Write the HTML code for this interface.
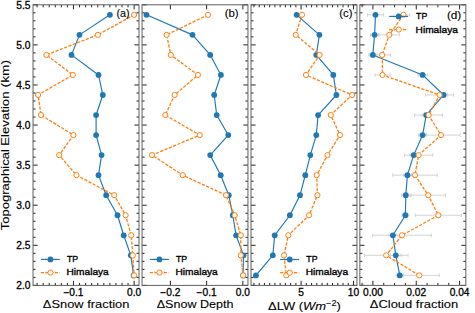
<!DOCTYPE html><html><head><meta charset="utf-8"><style>html,body{margin:0;padding:0;background:#fff;}svg{display:block;}</style></head><body><svg width="475" height="313" viewBox="0 0 475 313">
<rect width="475" height="313" fill="#fff"/>
<polyline points="109.90,14.82 79.50,34.86 71.50,54.91 98.50,74.95 102.80,94.99 96.10,115.04 96.10,135.08 101.60,155.12 98.50,175.16 106.20,195.21 117.50,215.25 123.70,235.29 130.80,255.34 133.60,275.38" fill="none" stroke="#1f77b4" stroke-width="1.15" stroke-linejoin="round"/>
<circle cx="109.90" cy="14.82" r="2.9" fill="#1f77b4"/>
<circle cx="79.50" cy="34.86" r="2.9" fill="#1f77b4"/>
<circle cx="71.50" cy="54.91" r="2.9" fill="#1f77b4"/>
<circle cx="98.50" cy="74.95" r="2.9" fill="#1f77b4"/>
<circle cx="102.80" cy="94.99" r="2.9" fill="#1f77b4"/>
<circle cx="96.10" cy="115.04" r="2.9" fill="#1f77b4"/>
<circle cx="96.10" cy="135.08" r="2.9" fill="#1f77b4"/>
<circle cx="101.60" cy="155.12" r="2.9" fill="#1f77b4"/>
<circle cx="98.50" cy="175.16" r="2.9" fill="#1f77b4"/>
<circle cx="106.20" cy="195.21" r="2.9" fill="#1f77b4"/>
<circle cx="117.50" cy="215.25" r="2.9" fill="#1f77b4"/>
<circle cx="123.70" cy="235.29" r="2.9" fill="#1f77b4"/>
<circle cx="130.80" cy="255.34" r="2.9" fill="#1f77b4"/>
<circle cx="133.60" cy="275.38" r="2.9" fill="#1f77b4"/>
<polyline points="134.10,14.82 97.80,34.86 46.40,54.91 72.80,74.95 38.10,94.99 41.00,115.04 73.40,135.08 59.20,155.12 76.40,175.16 114.20,195.21 125.60,215.25 131.20,235.29 132.80,255.34 134.10,275.38" fill="none" stroke="#ff7f0e" stroke-width="1.3" stroke-dasharray="3.2 1.45"/>
<circle cx="134.10" cy="14.82" r="2.6" fill="#fff" stroke="#ff7f0e" stroke-width="1"/>
<circle cx="97.80" cy="34.86" r="2.6" fill="#fff" stroke="#ff7f0e" stroke-width="1"/>
<circle cx="46.40" cy="54.91" r="2.6" fill="#fff" stroke="#ff7f0e" stroke-width="1"/>
<circle cx="72.80" cy="74.95" r="2.6" fill="#fff" stroke="#ff7f0e" stroke-width="1"/>
<circle cx="38.10" cy="94.99" r="2.6" fill="#fff" stroke="#ff7f0e" stroke-width="1"/>
<circle cx="41.00" cy="115.04" r="2.6" fill="#fff" stroke="#ff7f0e" stroke-width="1"/>
<circle cx="73.40" cy="135.08" r="2.6" fill="#fff" stroke="#ff7f0e" stroke-width="1"/>
<circle cx="59.20" cy="155.12" r="2.6" fill="#fff" stroke="#ff7f0e" stroke-width="1"/>
<circle cx="76.40" cy="175.16" r="2.6" fill="#fff" stroke="#ff7f0e" stroke-width="1"/>
<circle cx="114.20" cy="195.21" r="2.6" fill="#fff" stroke="#ff7f0e" stroke-width="1"/>
<circle cx="125.60" cy="215.25" r="2.6" fill="#fff" stroke="#ff7f0e" stroke-width="1"/>
<circle cx="131.20" cy="235.29" r="2.6" fill="#fff" stroke="#ff7f0e" stroke-width="1"/>
<circle cx="132.80" cy="255.34" r="2.6" fill="#fff" stroke="#ff7f0e" stroke-width="1"/>
<circle cx="134.10" cy="275.38" r="2.6" fill="#fff" stroke="#ff7f0e" stroke-width="1"/>
<path d="M33.05 4.80h4.6M139.00 4.80h-4.6M33.05 44.89h4.6M139.00 44.89h-4.6M33.05 84.97h4.6M139.00 84.97h-4.6M33.05 125.06h4.6M139.00 125.06h-4.6M33.05 165.14h4.6M139.00 165.14h-4.6M33.05 205.23h4.6M139.00 205.23h-4.6M33.05 245.31h4.6M139.00 245.31h-4.6M33.05 285.40h4.6M139.00 285.40h-4.6M33.05 12.82h2.5M139.00 12.82h-2.5M33.05 20.83h2.5M139.00 20.83h-2.5M33.05 28.85h2.5M139.00 28.85h-2.5M33.05 36.87h2.5M139.00 36.87h-2.5M33.05 52.90h2.5M139.00 52.90h-2.5M33.05 60.92h2.5M139.00 60.92h-2.5M33.05 68.94h2.5M139.00 68.94h-2.5M33.05 76.95h2.5M139.00 76.95h-2.5M33.05 92.99h2.5M139.00 92.99h-2.5M33.05 101.01h2.5M139.00 101.01h-2.5M33.05 109.02h2.5M139.00 109.02h-2.5M33.05 117.04h2.5M139.00 117.04h-2.5M33.05 133.07h2.5M139.00 133.07h-2.5M33.05 141.09h2.5M139.00 141.09h-2.5M33.05 149.11h2.5M139.00 149.11h-2.5M33.05 157.13h2.5M139.00 157.13h-2.5M33.05 173.16h2.5M139.00 173.16h-2.5M33.05 181.18h2.5M139.00 181.18h-2.5M33.05 189.19h2.5M139.00 189.19h-2.5M33.05 197.21h2.5M139.00 197.21h-2.5M33.05 213.25h2.5M139.00 213.25h-2.5M33.05 221.26h2.5M139.00 221.26h-2.5M33.05 229.28h2.5M139.00 229.28h-2.5M33.05 237.30h2.5M139.00 237.30h-2.5M33.05 253.33h2.5M139.00 253.33h-2.5M33.05 261.35h2.5M139.00 261.35h-2.5M33.05 269.37h2.5M139.00 269.37h-2.5M33.05 277.38h2.5M139.00 277.38h-2.5M73.48 285.40v-4.6M73.48 4.80v4.6M134.13 285.40v-4.6M134.13 4.80v4.6M37.09 285.40v-2.5M37.09 4.80v2.5M43.16 285.40v-2.5M43.16 4.80v2.5M49.22 285.40v-2.5M49.22 4.80v2.5M55.29 285.40v-2.5M55.29 4.80v2.5M61.35 285.40v-2.5M61.35 4.80v2.5M67.42 285.40v-2.5M67.42 4.80v2.5M79.54 285.40v-2.5M79.54 4.80v2.5M85.61 285.40v-2.5M85.61 4.80v2.5M91.67 285.40v-2.5M91.67 4.80v2.5M97.74 285.40v-2.5M97.74 4.80v2.5M103.80 285.40v-2.5M103.80 4.80v2.5M109.87 285.40v-2.5M109.87 4.80v2.5M115.94 285.40v-2.5M115.94 4.80v2.5M122.00 285.40v-2.5M122.00 4.80v2.5M128.06 285.40v-2.5M128.06 4.80v2.5" stroke="#222" stroke-width="1.0" fill="none"/>
<rect x="33.05" y="4.8" width="105.95" height="280.60" fill="none" stroke="#606060" stroke-width="1.0"/>
<text transform="translate(73.48 295.8) scale(1.02 1)" text-anchor="middle" font-size="10.0" font-family="'Liberation Sans', sans-serif" stroke="#000" stroke-width="0.3">−0.1</text>
<text transform="translate(134.13 295.8) scale(1.02 1)" text-anchor="middle" font-size="10.0" font-family="'Liberation Sans', sans-serif" stroke="#000" stroke-width="0.3">0.0</text>
<polyline points="146.50,14.82 192.50,34.86 210.20,54.91 220.90,74.95 214.20,94.99 216.70,115.04 228.30,135.08 210.20,155.12 220.70,175.16 228.80,195.21 232.80,215.25 236.10,235.29 243.50,255.34 243.00,275.38" fill="none" stroke="#1f77b4" stroke-width="1.15" stroke-linejoin="round"/>
<circle cx="146.50" cy="14.82" r="2.9" fill="#1f77b4"/>
<circle cx="192.50" cy="34.86" r="2.9" fill="#1f77b4"/>
<circle cx="210.20" cy="54.91" r="2.9" fill="#1f77b4"/>
<circle cx="220.90" cy="74.95" r="2.9" fill="#1f77b4"/>
<circle cx="214.20" cy="94.99" r="2.9" fill="#1f77b4"/>
<circle cx="216.70" cy="115.04" r="2.9" fill="#1f77b4"/>
<circle cx="228.30" cy="135.08" r="2.9" fill="#1f77b4"/>
<circle cx="210.20" cy="155.12" r="2.9" fill="#1f77b4"/>
<circle cx="220.70" cy="175.16" r="2.9" fill="#1f77b4"/>
<circle cx="228.80" cy="195.21" r="2.9" fill="#1f77b4"/>
<circle cx="232.80" cy="215.25" r="2.9" fill="#1f77b4"/>
<circle cx="236.10" cy="235.29" r="2.9" fill="#1f77b4"/>
<circle cx="243.50" cy="255.34" r="2.9" fill="#1f77b4"/>
<circle cx="243.00" cy="275.38" r="2.9" fill="#1f77b4"/>
<polyline points="208.00,14.82 166.60,34.86 170.80,54.91 197.90,74.95 174.60,94.99 165.30,115.04 199.70,135.08 152.10,155.12 182.70,175.16 226.00,195.21 234.70,215.25 240.80,235.29 240.80,255.34 243.10,275.38" fill="none" stroke="#ff7f0e" stroke-width="1.3" stroke-dasharray="3.2 1.45"/>
<circle cx="208.00" cy="14.82" r="2.6" fill="#fff" stroke="#ff7f0e" stroke-width="1"/>
<circle cx="166.60" cy="34.86" r="2.6" fill="#fff" stroke="#ff7f0e" stroke-width="1"/>
<circle cx="170.80" cy="54.91" r="2.6" fill="#fff" stroke="#ff7f0e" stroke-width="1"/>
<circle cx="197.90" cy="74.95" r="2.6" fill="#fff" stroke="#ff7f0e" stroke-width="1"/>
<circle cx="174.60" cy="94.99" r="2.6" fill="#fff" stroke="#ff7f0e" stroke-width="1"/>
<circle cx="165.30" cy="115.04" r="2.6" fill="#fff" stroke="#ff7f0e" stroke-width="1"/>
<circle cx="199.70" cy="135.08" r="2.6" fill="#fff" stroke="#ff7f0e" stroke-width="1"/>
<circle cx="152.10" cy="155.12" r="2.6" fill="#fff" stroke="#ff7f0e" stroke-width="1"/>
<circle cx="182.70" cy="175.16" r="2.6" fill="#fff" stroke="#ff7f0e" stroke-width="1"/>
<circle cx="226.00" cy="195.21" r="2.6" fill="#fff" stroke="#ff7f0e" stroke-width="1"/>
<circle cx="234.70" cy="215.25" r="2.6" fill="#fff" stroke="#ff7f0e" stroke-width="1"/>
<circle cx="240.80" cy="235.29" r="2.6" fill="#fff" stroke="#ff7f0e" stroke-width="1"/>
<circle cx="240.80" cy="255.34" r="2.6" fill="#fff" stroke="#ff7f0e" stroke-width="1"/>
<circle cx="243.10" cy="275.38" r="2.6" fill="#fff" stroke="#ff7f0e" stroke-width="1"/>
<path d="M142.05 4.80h4.6M247.95 4.80h-4.6M142.05 44.89h4.6M247.95 44.89h-4.6M142.05 84.97h4.6M247.95 84.97h-4.6M142.05 125.06h4.6M247.95 125.06h-4.6M142.05 165.14h4.6M247.95 165.14h-4.6M142.05 205.23h4.6M247.95 205.23h-4.6M142.05 245.31h4.6M247.95 245.31h-4.6M142.05 285.40h4.6M247.95 285.40h-4.6M142.05 12.82h2.5M247.95 12.82h-2.5M142.05 20.83h2.5M247.95 20.83h-2.5M142.05 28.85h2.5M247.95 28.85h-2.5M142.05 36.87h2.5M247.95 36.87h-2.5M142.05 52.90h2.5M247.95 52.90h-2.5M142.05 60.92h2.5M247.95 60.92h-2.5M142.05 68.94h2.5M247.95 68.94h-2.5M142.05 76.95h2.5M247.95 76.95h-2.5M142.05 92.99h2.5M247.95 92.99h-2.5M142.05 101.01h2.5M247.95 101.01h-2.5M142.05 109.02h2.5M247.95 109.02h-2.5M142.05 117.04h2.5M247.95 117.04h-2.5M142.05 133.07h2.5M247.95 133.07h-2.5M142.05 141.09h2.5M247.95 141.09h-2.5M142.05 149.11h2.5M247.95 149.11h-2.5M142.05 157.13h2.5M247.95 157.13h-2.5M142.05 173.16h2.5M247.95 173.16h-2.5M142.05 181.18h2.5M247.95 181.18h-2.5M142.05 189.19h2.5M247.95 189.19h-2.5M142.05 197.21h2.5M247.95 197.21h-2.5M142.05 213.25h2.5M247.95 213.25h-2.5M142.05 221.26h2.5M247.95 221.26h-2.5M142.05 229.28h2.5M247.95 229.28h-2.5M142.05 237.30h2.5M247.95 237.30h-2.5M142.05 253.33h2.5M247.95 253.33h-2.5M142.05 261.35h2.5M247.95 261.35h-2.5M142.05 269.37h2.5M247.95 269.37h-2.5M142.05 277.38h2.5M247.95 277.38h-2.5M170.39 285.40v-4.6M170.39 4.80v4.6M206.62 285.40v-4.6M206.62 4.80v4.6M242.85 285.40v-4.6M242.85 4.80v4.6" stroke="#222" stroke-width="1.0" fill="none"/>
<rect x="142.05" y="4.8" width="105.90" height="280.60" fill="none" stroke="#606060" stroke-width="1.0"/>
<text transform="translate(170.39 295.8) scale(1.02 1)" text-anchor="middle" font-size="10.0" font-family="'Liberation Sans', sans-serif" stroke="#000" stroke-width="0.3">−0.2</text>
<text transform="translate(206.62 295.8) scale(1.02 1)" text-anchor="middle" font-size="10.0" font-family="'Liberation Sans', sans-serif" stroke="#000" stroke-width="0.3">−0.1</text>
<text transform="translate(242.85 295.8) scale(1.02 1)" text-anchor="middle" font-size="10.0" font-family="'Liberation Sans', sans-serif" stroke="#000" stroke-width="0.3">0.0</text>
<polyline points="296.60,14.82 319.40,34.86 316.30,54.91 333.30,74.95 336.40,94.99 318.10,115.04 316.30,135.08 310.30,155.12 305.30,175.16 300.00,195.21 289.90,215.25 274.70,235.29 272.80,255.34 255.90,275.38" fill="none" stroke="#1f77b4" stroke-width="1.15" stroke-linejoin="round"/>
<circle cx="296.60" cy="14.82" r="2.9" fill="#1f77b4"/>
<circle cx="319.40" cy="34.86" r="2.9" fill="#1f77b4"/>
<circle cx="316.30" cy="54.91" r="2.9" fill="#1f77b4"/>
<circle cx="333.30" cy="74.95" r="2.9" fill="#1f77b4"/>
<circle cx="336.40" cy="94.99" r="2.9" fill="#1f77b4"/>
<circle cx="318.10" cy="115.04" r="2.9" fill="#1f77b4"/>
<circle cx="316.30" cy="135.08" r="2.9" fill="#1f77b4"/>
<circle cx="310.30" cy="155.12" r="2.9" fill="#1f77b4"/>
<circle cx="305.30" cy="175.16" r="2.9" fill="#1f77b4"/>
<circle cx="300.00" cy="195.21" r="2.9" fill="#1f77b4"/>
<circle cx="289.90" cy="215.25" r="2.9" fill="#1f77b4"/>
<circle cx="274.70" cy="235.29" r="2.9" fill="#1f77b4"/>
<circle cx="272.80" cy="255.34" r="2.9" fill="#1f77b4"/>
<circle cx="255.90" cy="275.38" r="2.9" fill="#1f77b4"/>
<polyline points="302.00,14.82 295.70,34.86 319.60,54.91 306.00,74.95 352.10,94.99 330.80,115.04 340.00,135.08 327.50,155.12 316.70,175.16 317.40,195.21 309.10,215.25 288.30,235.29 284.00,255.34 286.30,275.38" fill="none" stroke="#ff7f0e" stroke-width="1.3" stroke-dasharray="3.2 1.45"/>
<circle cx="302.00" cy="14.82" r="2.6" fill="#fff" stroke="#ff7f0e" stroke-width="1"/>
<circle cx="295.70" cy="34.86" r="2.6" fill="#fff" stroke="#ff7f0e" stroke-width="1"/>
<circle cx="319.60" cy="54.91" r="2.6" fill="#fff" stroke="#ff7f0e" stroke-width="1"/>
<circle cx="306.00" cy="74.95" r="2.6" fill="#fff" stroke="#ff7f0e" stroke-width="1"/>
<circle cx="352.10" cy="94.99" r="2.6" fill="#fff" stroke="#ff7f0e" stroke-width="1"/>
<circle cx="330.80" cy="115.04" r="2.6" fill="#fff" stroke="#ff7f0e" stroke-width="1"/>
<circle cx="340.00" cy="135.08" r="2.6" fill="#fff" stroke="#ff7f0e" stroke-width="1"/>
<circle cx="327.50" cy="155.12" r="2.6" fill="#fff" stroke="#ff7f0e" stroke-width="1"/>
<circle cx="316.70" cy="175.16" r="2.6" fill="#fff" stroke="#ff7f0e" stroke-width="1"/>
<circle cx="317.40" cy="195.21" r="2.6" fill="#fff" stroke="#ff7f0e" stroke-width="1"/>
<circle cx="309.10" cy="215.25" r="2.6" fill="#fff" stroke="#ff7f0e" stroke-width="1"/>
<circle cx="288.30" cy="235.29" r="2.6" fill="#fff" stroke="#ff7f0e" stroke-width="1"/>
<circle cx="284.00" cy="255.34" r="2.6" fill="#fff" stroke="#ff7f0e" stroke-width="1"/>
<circle cx="286.30" cy="275.38" r="2.6" fill="#fff" stroke="#ff7f0e" stroke-width="1"/>
<path d="M251.00 4.80h4.6M356.95 4.80h-4.6M251.00 44.89h4.6M356.95 44.89h-4.6M251.00 84.97h4.6M356.95 84.97h-4.6M251.00 125.06h4.6M356.95 125.06h-4.6M251.00 165.14h4.6M356.95 165.14h-4.6M251.00 205.23h4.6M356.95 205.23h-4.6M251.00 245.31h4.6M356.95 245.31h-4.6M251.00 285.40h4.6M356.95 285.40h-4.6M251.00 12.82h2.5M356.95 12.82h-2.5M251.00 20.83h2.5M356.95 20.83h-2.5M251.00 28.85h2.5M356.95 28.85h-2.5M251.00 36.87h2.5M356.95 36.87h-2.5M251.00 52.90h2.5M356.95 52.90h-2.5M251.00 60.92h2.5M356.95 60.92h-2.5M251.00 68.94h2.5M356.95 68.94h-2.5M251.00 76.95h2.5M356.95 76.95h-2.5M251.00 92.99h2.5M356.95 92.99h-2.5M251.00 101.01h2.5M356.95 101.01h-2.5M251.00 109.02h2.5M356.95 109.02h-2.5M251.00 117.04h2.5M356.95 117.04h-2.5M251.00 133.07h2.5M356.95 133.07h-2.5M251.00 141.09h2.5M356.95 141.09h-2.5M251.00 149.11h2.5M356.95 149.11h-2.5M251.00 157.13h2.5M356.95 157.13h-2.5M251.00 173.16h2.5M356.95 173.16h-2.5M251.00 181.18h2.5M356.95 181.18h-2.5M251.00 189.19h2.5M356.95 189.19h-2.5M251.00 197.21h2.5M356.95 197.21h-2.5M251.00 213.25h2.5M356.95 213.25h-2.5M251.00 221.26h2.5M356.95 221.26h-2.5M251.00 229.28h2.5M356.95 229.28h-2.5M251.00 237.30h2.5M356.95 237.30h-2.5M251.00 253.33h2.5M356.95 253.33h-2.5M251.00 261.35h2.5M356.95 261.35h-2.5M251.00 269.37h2.5M356.95 269.37h-2.5M251.00 277.38h2.5M356.95 277.38h-2.5M301.10 285.40v-4.6M301.10 4.80v4.6M353.48 285.40v-4.6M353.48 4.80v4.6M253.96 285.40v-2.5M253.96 4.80v2.5M259.20 285.40v-2.5M259.20 4.80v2.5M264.43 285.40v-2.5M264.43 4.80v2.5M269.67 285.40v-2.5M269.67 4.80v2.5M274.91 285.40v-2.5M274.91 4.80v2.5M280.15 285.40v-2.5M280.15 4.80v2.5M285.39 285.40v-2.5M285.39 4.80v2.5M290.62 285.40v-2.5M290.62 4.80v2.5M295.86 285.40v-2.5M295.86 4.80v2.5M306.34 285.40v-2.5M306.34 4.80v2.5M311.58 285.40v-2.5M311.58 4.80v2.5M316.81 285.40v-2.5M316.81 4.80v2.5M322.05 285.40v-2.5M322.05 4.80v2.5M327.29 285.40v-2.5M327.29 4.80v2.5M332.53 285.40v-2.5M332.53 4.80v2.5M337.77 285.40v-2.5M337.77 4.80v2.5M343.00 285.40v-2.5M343.00 4.80v2.5M348.24 285.40v-2.5M348.24 4.80v2.5" stroke="#222" stroke-width="1.0" fill="none"/>
<rect x="251.0" y="4.8" width="105.95" height="280.60" fill="none" stroke="#606060" stroke-width="1.0"/>
<text transform="translate(301.10 295.8) scale(1.02 1)" text-anchor="middle" font-size="10.0" font-family="'Liberation Sans', sans-serif" stroke="#000" stroke-width="0.3">5</text>
<text transform="translate(353.48 295.8) scale(1.02 1)" text-anchor="middle" font-size="10.0" font-family="'Liberation Sans', sans-serif" stroke="#000" stroke-width="0.3">10</text>
<path d="M367.40 14.82H383.60M367.40 13.02v3.6M383.60 13.02v3.6" stroke="#cfcfcf" stroke-width="0.9" fill="none"/>
<path d="M397.50 14.82H409.50M397.50 13.02v3.6M409.50 13.02v3.6" stroke="#cfcfcf" stroke-width="0.9" fill="none"/>
<path d="M370.60 34.86H378.60M370.60 33.06v3.6M378.60 33.06v3.6" stroke="#cfcfcf" stroke-width="0.9" fill="none"/>
<path d="M379.00 34.86H399.60M379.00 33.06v3.6M399.60 33.06v3.6" stroke="#cfcfcf" stroke-width="0.9" fill="none"/>
<path d="M368.80 54.91H376.80M368.80 53.11v3.6M376.80 53.11v3.6" stroke="#cfcfcf" stroke-width="0.9" fill="none"/>
<path d="M374.00 54.91H390.40M374.00 53.11v3.6M390.40 53.11v3.6" stroke="#cfcfcf" stroke-width="0.9" fill="none"/>
<path d="M417.90 74.95H427.30M417.90 73.15v3.6M427.30 73.15v3.6" stroke="#cfcfcf" stroke-width="0.9" fill="none"/>
<path d="M375.00 74.95H390.00M375.00 73.15v3.6M390.00 73.15v3.6" stroke="#cfcfcf" stroke-width="0.9" fill="none"/>
<path d="M439.60 94.99H447.60M439.60 93.19v3.6M447.60 93.19v3.6" stroke="#cfcfcf" stroke-width="0.9" fill="none"/>
<path d="M425.60 94.99H453.60M425.60 93.19v3.6M453.60 93.19v3.6" stroke="#cfcfcf" stroke-width="0.9" fill="none"/>
<path d="M422.20 115.04H430.20M422.20 113.24v3.6M430.20 113.24v3.6" stroke="#cfcfcf" stroke-width="0.9" fill="none"/>
<path d="M414.60 115.04H442.60M414.60 113.24v3.6M442.60 113.24v3.6" stroke="#cfcfcf" stroke-width="0.9" fill="none"/>
<path d="M418.60 135.08H426.60M418.60 133.28v3.6M426.60 133.28v3.6" stroke="#cfcfcf" stroke-width="0.9" fill="none"/>
<path d="M421.80 135.08H460.20M421.80 133.28v3.6M460.20 133.28v3.6" stroke="#cfcfcf" stroke-width="0.9" fill="none"/>
<path d="M409.70 155.12H417.70M409.70 153.32v3.6M417.70 153.32v3.6" stroke="#cfcfcf" stroke-width="0.9" fill="none"/>
<path d="M404.40 155.12H432.80M404.40 153.32v3.6M432.80 153.32v3.6" stroke="#cfcfcf" stroke-width="0.9" fill="none"/>
<path d="M403.40 175.16H411.40M403.40 173.36v3.6M411.40 173.36v3.6" stroke="#cfcfcf" stroke-width="0.9" fill="none"/>
<path d="M392.70 175.16H437.30M392.70 173.36v3.6M437.30 173.36v3.6" stroke="#cfcfcf" stroke-width="0.9" fill="none"/>
<path d="M401.60 195.21H410.00M401.60 193.41v3.6M410.00 193.41v3.6" stroke="#cfcfcf" stroke-width="0.9" fill="none"/>
<path d="M411.00 195.21H445.40M411.00 193.41v3.6M445.40 193.41v3.6" stroke="#cfcfcf" stroke-width="0.9" fill="none"/>
<path d="M401.90 215.25H408.90M401.90 213.45v3.6M408.90 213.45v3.6" stroke="#cfcfcf" stroke-width="0.9" fill="none"/>
<path d="M415.30 215.25H461.30M415.30 213.45v3.6M461.30 213.45v3.6" stroke="#cfcfcf" stroke-width="0.9" fill="none"/>
<path d="M388.90 235.29H396.90M388.90 233.49v3.6M396.90 233.49v3.6" stroke="#cfcfcf" stroke-width="0.9" fill="none"/>
<path d="M372.70 235.29H431.30M372.70 233.49v3.6M431.30 233.49v3.6" stroke="#cfcfcf" stroke-width="0.9" fill="none"/>
<path d="M390.30 255.34H401.30M390.30 253.54v3.6M401.30 253.54v3.6" stroke="#cfcfcf" stroke-width="0.9" fill="none"/>
<path d="M364.40 255.34H408.00M364.40 253.54v3.6M408.00 253.54v3.6" stroke="#cfcfcf" stroke-width="0.9" fill="none"/>
<path d="M396.00 275.38H403.60M396.00 273.58v3.6M403.60 273.58v3.6" stroke="#cfcfcf" stroke-width="0.9" fill="none"/>
<path d="M399.20 275.38H439.40M399.20 273.58v3.6M439.40 273.58v3.6" stroke="#cfcfcf" stroke-width="0.9" fill="none"/>
<polyline points="375.50,14.82 374.60,34.86 372.80,54.91 422.60,74.95 443.60,94.99 426.20,115.04 422.60,135.08 413.70,155.12 407.40,175.16 405.80,195.21 405.40,215.25 392.90,235.29 395.80,255.34 399.80,275.38" fill="none" stroke="#1f77b4" stroke-width="1.15" stroke-linejoin="round"/>
<circle cx="375.50" cy="14.82" r="2.9" fill="#1f77b4"/>
<circle cx="374.60" cy="34.86" r="2.9" fill="#1f77b4"/>
<circle cx="372.80" cy="54.91" r="2.9" fill="#1f77b4"/>
<circle cx="422.60" cy="74.95" r="2.9" fill="#1f77b4"/>
<circle cx="443.60" cy="94.99" r="2.9" fill="#1f77b4"/>
<circle cx="426.20" cy="115.04" r="2.9" fill="#1f77b4"/>
<circle cx="422.60" cy="135.08" r="2.9" fill="#1f77b4"/>
<circle cx="413.70" cy="155.12" r="2.9" fill="#1f77b4"/>
<circle cx="407.40" cy="175.16" r="2.9" fill="#1f77b4"/>
<circle cx="405.80" cy="195.21" r="2.9" fill="#1f77b4"/>
<circle cx="405.40" cy="215.25" r="2.9" fill="#1f77b4"/>
<circle cx="392.90" cy="235.29" r="2.9" fill="#1f77b4"/>
<circle cx="395.80" cy="255.34" r="2.9" fill="#1f77b4"/>
<circle cx="399.80" cy="275.38" r="2.9" fill="#1f77b4"/>
<polyline points="403.50,14.82 389.30,34.86 382.20,54.91 382.50,74.95 439.60,94.99 428.60,115.04 441.00,135.08 418.60,155.12 415.00,175.16 428.20,195.21 438.30,215.25 402.00,235.29 386.20,255.34 419.30,275.38" fill="none" stroke="#ff7f0e" stroke-width="1.3" stroke-dasharray="3.2 1.45"/>
<circle cx="403.50" cy="14.82" r="2.6" fill="#fff" stroke="#ff7f0e" stroke-width="1"/>
<circle cx="389.30" cy="34.86" r="2.6" fill="#fff" stroke="#ff7f0e" stroke-width="1"/>
<circle cx="382.20" cy="54.91" r="2.6" fill="#fff" stroke="#ff7f0e" stroke-width="1"/>
<circle cx="382.50" cy="74.95" r="2.6" fill="#fff" stroke="#ff7f0e" stroke-width="1"/>
<circle cx="439.60" cy="94.99" r="2.6" fill="#fff" stroke="#ff7f0e" stroke-width="1"/>
<circle cx="428.60" cy="115.04" r="2.6" fill="#fff" stroke="#ff7f0e" stroke-width="1"/>
<circle cx="441.00" cy="135.08" r="2.6" fill="#fff" stroke="#ff7f0e" stroke-width="1"/>
<circle cx="418.60" cy="155.12" r="2.6" fill="#fff" stroke="#ff7f0e" stroke-width="1"/>
<circle cx="415.00" cy="175.16" r="2.6" fill="#fff" stroke="#ff7f0e" stroke-width="1"/>
<circle cx="428.20" cy="195.21" r="2.6" fill="#fff" stroke="#ff7f0e" stroke-width="1"/>
<circle cx="438.30" cy="215.25" r="2.6" fill="#fff" stroke="#ff7f0e" stroke-width="1"/>
<circle cx="402.00" cy="235.29" r="2.6" fill="#fff" stroke="#ff7f0e" stroke-width="1"/>
<circle cx="386.20" cy="255.34" r="2.6" fill="#fff" stroke="#ff7f0e" stroke-width="1"/>
<circle cx="419.30" cy="275.38" r="2.6" fill="#fff" stroke="#ff7f0e" stroke-width="1"/>
<path d="M359.85 4.80h4.6M465.85 4.80h-4.6M359.85 44.89h4.6M465.85 44.89h-4.6M359.85 84.97h4.6M465.85 84.97h-4.6M359.85 125.06h4.6M465.85 125.06h-4.6M359.85 165.14h4.6M465.85 165.14h-4.6M359.85 205.23h4.6M465.85 205.23h-4.6M359.85 245.31h4.6M465.85 245.31h-4.6M359.85 285.40h4.6M465.85 285.40h-4.6M359.85 12.82h2.5M465.85 12.82h-2.5M359.85 20.83h2.5M465.85 20.83h-2.5M359.85 28.85h2.5M465.85 28.85h-2.5M359.85 36.87h2.5M465.85 36.87h-2.5M359.85 52.90h2.5M465.85 52.90h-2.5M359.85 60.92h2.5M465.85 60.92h-2.5M359.85 68.94h2.5M465.85 68.94h-2.5M359.85 76.95h2.5M465.85 76.95h-2.5M359.85 92.99h2.5M465.85 92.99h-2.5M359.85 101.01h2.5M465.85 101.01h-2.5M359.85 109.02h2.5M465.85 109.02h-2.5M359.85 117.04h2.5M465.85 117.04h-2.5M359.85 133.07h2.5M465.85 133.07h-2.5M359.85 141.09h2.5M465.85 141.09h-2.5M359.85 149.11h2.5M465.85 149.11h-2.5M359.85 157.13h2.5M465.85 157.13h-2.5M359.85 173.16h2.5M465.85 173.16h-2.5M359.85 181.18h2.5M465.85 181.18h-2.5M359.85 189.19h2.5M465.85 189.19h-2.5M359.85 197.21h2.5M465.85 197.21h-2.5M359.85 213.25h2.5M465.85 213.25h-2.5M359.85 221.26h2.5M465.85 221.26h-2.5M359.85 229.28h2.5M465.85 229.28h-2.5M359.85 237.30h2.5M465.85 237.30h-2.5M359.85 253.33h2.5M465.85 253.33h-2.5M359.85 261.35h2.5M465.85 261.35h-2.5M359.85 269.37h2.5M465.85 269.37h-2.5M359.85 277.38h2.5M465.85 277.38h-2.5M372.90 285.40v-4.6M372.90 4.80v4.6M416.25 285.40v-4.6M416.25 4.80v4.6M459.60 285.40v-4.6M459.60 4.80v4.6M362.06 285.40v-2.5M362.06 4.80v2.5M383.74 285.40v-2.5M383.74 4.80v2.5M394.57 285.40v-2.5M394.57 4.80v2.5M405.41 285.40v-2.5M405.41 4.80v2.5M427.09 285.40v-2.5M427.09 4.80v2.5M437.92 285.40v-2.5M437.92 4.80v2.5M448.76 285.40v-2.5M448.76 4.80v2.5" stroke="#222" stroke-width="1.0" fill="none"/>
<rect x="359.85" y="4.8" width="106.00" height="280.60" fill="none" stroke="#606060" stroke-width="1.0"/>
<text transform="translate(372.90 295.8) scale(1.02 1)" text-anchor="middle" font-size="10.0" font-family="'Liberation Sans', sans-serif" stroke="#000" stroke-width="0.3">0.00</text>
<text transform="translate(416.25 295.8) scale(1.02 1)" text-anchor="middle" font-size="10.0" font-family="'Liberation Sans', sans-serif" stroke="#000" stroke-width="0.3">0.02</text>
<text transform="translate(459.60 295.8) scale(1.02 1)" text-anchor="middle" font-size="10.0" font-family="'Liberation Sans', sans-serif" stroke="#000" stroke-width="0.3">0.04</text>
<text transform="translate(30.40 8.80) scale(1.02 1)" text-anchor="end" font-size="10.0" font-family="'Liberation Sans', sans-serif" stroke="#000" stroke-width="0.3">5.5</text>
<text transform="translate(30.40 48.89) scale(1.02 1)" text-anchor="end" font-size="10.0" font-family="'Liberation Sans', sans-serif" stroke="#000" stroke-width="0.3">5.0</text>
<text transform="translate(30.40 88.97) scale(1.02 1)" text-anchor="end" font-size="10.0" font-family="'Liberation Sans', sans-serif" stroke="#000" stroke-width="0.3">4.5</text>
<text transform="translate(30.40 129.06) scale(1.02 1)" text-anchor="end" font-size="10.0" font-family="'Liberation Sans', sans-serif" stroke="#000" stroke-width="0.3">4.0</text>
<text transform="translate(30.40 169.14) scale(1.02 1)" text-anchor="end" font-size="10.0" font-family="'Liberation Sans', sans-serif" stroke="#000" stroke-width="0.3">3.5</text>
<text transform="translate(30.40 209.23) scale(1.02 1)" text-anchor="end" font-size="10.0" font-family="'Liberation Sans', sans-serif" stroke="#000" stroke-width="0.3">3.0</text>
<text transform="translate(30.40 249.31) scale(1.02 1)" text-anchor="end" font-size="10.0" font-family="'Liberation Sans', sans-serif" stroke="#000" stroke-width="0.3">2.5</text>
<text transform="translate(30.40 289.40) scale(1.02 1)" text-anchor="end" font-size="10.0" font-family="'Liberation Sans', sans-serif" stroke="#000" stroke-width="0.3">2.0</text>
<text transform="translate(9.0 230.2) rotate(-90) scale(1.133 1)" font-size="11.5" font-family="'Liberation Sans', sans-serif" stroke="#000" stroke-width="0.1">Topographical</text>
<text transform="translate(9.0 145.8) rotate(-90) scale(1.149 1)" font-size="11.5" font-family="'Liberation Sans', sans-serif" stroke="#000" stroke-width="0.1">Elevation</text>
<text transform="translate(9.0 87.4) rotate(-90) scale(1.194 1)" font-size="11.5" font-family="'Liberation Sans', sans-serif" stroke="#000" stroke-width="0.1">(km)</text>
<text transform="translate(42.80 308.25) scale(1.111 1)" text-anchor="start" font-size="11.6" font-family="'Liberation Sans', sans-serif" stroke="#000" stroke-width="0.1">ΔSnow fraction</text>
<text transform="translate(156.70 308.25) scale(1.082 1)" text-anchor="start" font-size="11.6" font-family="'Liberation Sans', sans-serif" stroke="#000" stroke-width="0.1">ΔSnow Depth</text>
<text transform="translate(268.00 309.90) scale(1.118 1)" text-anchor="start" font-size="11.6" font-family="'Liberation Sans', sans-serif" stroke="#000" stroke-width="0.1">ΔLW (<tspan font-style="italic">Wm</tspan><tspan dy="-4.3" font-size="8.2">−2</tspan><tspan dy="4.3">)</tspan></text>
<text transform="translate(369.80 308.20) scale(1.116 1)" text-anchor="start" font-size="11.6" font-family="'Liberation Sans', sans-serif" stroke="#000" stroke-width="0.1">ΔCloud fraction</text>
<text transform="translate(116.40 16.60) scale(1.03 1)" text-anchor="start" font-size="10.5" font-family="'Liberation Sans', sans-serif" stroke="#000" stroke-width="0.12">(a)</text>
<text transform="translate(224.70 16.50) scale(1.09 1)" text-anchor="start" font-size="10.5" font-family="'Liberation Sans', sans-serif" stroke="#000" stroke-width="0.12">(b)</text>
<text transform="translate(339.30 17.30) scale(1.08 1)" text-anchor="start" font-size="10.5" font-family="'Liberation Sans', sans-serif" stroke="#000" stroke-width="0.12">(c)</text>
<text transform="translate(446.90 19.20) scale(1.12 1)" text-anchor="start" font-size="10.5" font-family="'Liberation Sans', sans-serif" stroke="#000" stroke-width="0.12">(d)</text>
<path d="M45.85 257.40v4M55.05 257.40v4" stroke="#f2d9c4" stroke-width="0.9"/>
<path d="M45.85 270.55v4M55.05 270.55v4" stroke="#c9dbe8" stroke-width="0.9"/>
<path d="M40.85 259.40h19" stroke="#1f77b4" stroke-width="1.15"/>
<circle cx="50.45" cy="259.40" r="2.9" fill="#1f77b4"/>
<path d="M40.85 272.55h19" stroke="#ff7f0e" stroke-width="1.3" stroke-dasharray="3.2 1.45"/>
<circle cx="50.45" cy="272.55" r="2.6" fill="#fff" stroke="#ff7f0e" stroke-width="1"/>
<text transform="translate(67.00 262.20) scale(0.93 1)" font-size="9.4" font-family="'Liberation Sans', sans-serif" stroke="#000" stroke-width="0.35">TP</text>
<text transform="translate(66.50 275.35) scale(1.08 1)" font-size="9.4" font-family="'Liberation Sans', sans-serif" stroke="#000" stroke-width="0.35">Himalaya</text>
<path d="M154.85 257.40v4M164.05 257.40v4" stroke="#f2d9c4" stroke-width="0.9"/>
<path d="M154.85 270.55v4M164.05 270.55v4" stroke="#c9dbe8" stroke-width="0.9"/>
<path d="M149.85 259.40h19" stroke="#1f77b4" stroke-width="1.15"/>
<circle cx="159.45" cy="259.40" r="2.9" fill="#1f77b4"/>
<path d="M149.85 272.55h19" stroke="#ff7f0e" stroke-width="1.3" stroke-dasharray="3.2 1.45"/>
<circle cx="159.45" cy="272.55" r="2.6" fill="#fff" stroke="#ff7f0e" stroke-width="1"/>
<text transform="translate(176.00 262.20) scale(0.93 1)" font-size="9.4" font-family="'Liberation Sans', sans-serif" stroke="#000" stroke-width="0.35">TP</text>
<text transform="translate(175.50 275.35) scale(1.08 1)" font-size="9.4" font-family="'Liberation Sans', sans-serif" stroke="#000" stroke-width="0.35">Himalaya</text>
<path d="M285.10 257.50v4M294.30 257.50v4" stroke="#f2d9c4" stroke-width="0.9"/>
<path d="M285.10 270.65v4M294.30 270.65v4" stroke="#c9dbe8" stroke-width="0.9"/>
<path d="M280.10 259.50h19" stroke="#1f77b4" stroke-width="1.15"/>
<circle cx="289.70" cy="259.50" r="2.9" fill="#1f77b4"/>
<path d="M280.10 272.65h19" stroke="#ff7f0e" stroke-width="1.3" stroke-dasharray="3.2 1.45"/>
<circle cx="289.70" cy="272.65" r="2.6" fill="#fff" stroke="#ff7f0e" stroke-width="1"/>
<text transform="translate(306.30 262.30) scale(0.93 1)" font-size="9.4" font-family="'Liberation Sans', sans-serif" stroke="#000" stroke-width="0.35">TP</text>
<text transform="translate(305.80 275.45) scale(1.08 1)" font-size="9.4" font-family="'Liberation Sans', sans-serif" stroke="#000" stroke-width="0.35">Himalaya</text>
<path d="M394.10 14.40v4M403.30 14.40v4" stroke="#f2d9c4" stroke-width="0.9"/>
<path d="M394.10 27.55v4M403.30 27.55v4" stroke="#c9dbe8" stroke-width="0.9"/>
<path d="M389.10 16.40h19" stroke="#1f77b4" stroke-width="1.15"/>
<circle cx="398.70" cy="16.40" r="2.9" fill="#1f77b4"/>
<path d="M389.10 29.55h19" stroke="#ff7f0e" stroke-width="1.3" stroke-dasharray="3.2 1.45"/>
<circle cx="398.70" cy="29.55" r="2.6" fill="#fff" stroke="#ff7f0e" stroke-width="1"/>
<text transform="translate(416.10 19.20) scale(0.93 1)" font-size="9.4" font-family="'Liberation Sans', sans-serif" stroke="#000" stroke-width="0.35">TP</text>
<text transform="translate(415.60 32.95) scale(1.08 1)" font-size="9.4" font-family="'Liberation Sans', sans-serif" stroke="#000" stroke-width="0.35">Himalaya</text>
</svg></body></html>
